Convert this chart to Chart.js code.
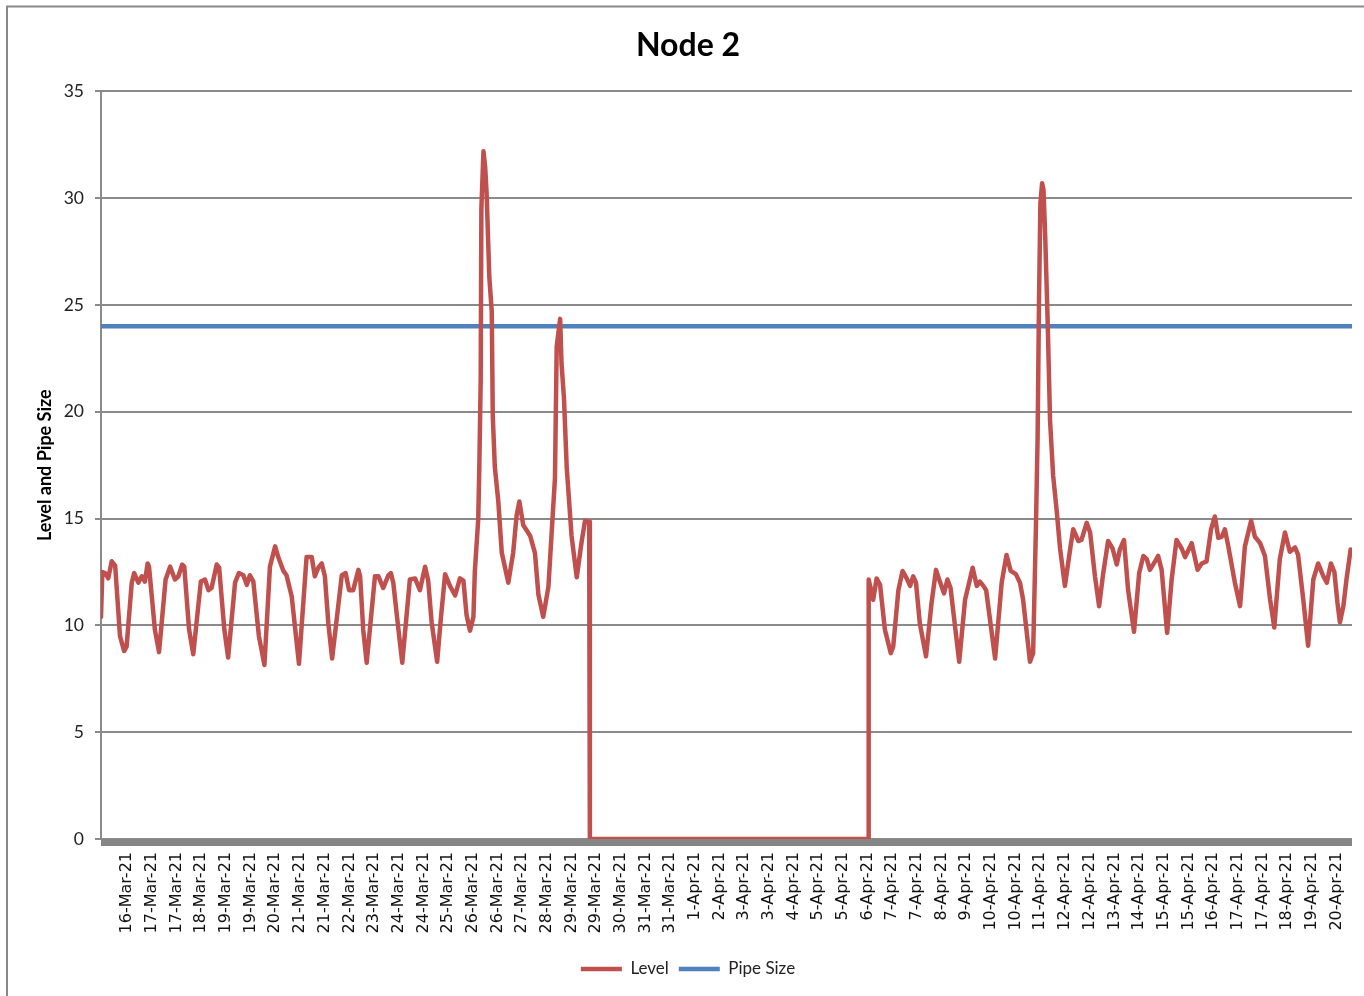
<!DOCTYPE html>
<html>
<head>
<meta charset="utf-8">
<title>Node 2</title>
<script src="https://cdn.jsdelivr.net/npm/chart.js@4"></script>
<style>
  html, body { margin: 0; padding: 0; background: #fff; }
  #wrap { position: relative; width: 1364px; height: 996px; }
</style>
</head>
<body>
<div id="wrap"><canvas id="chart" width="1364" height="996"></canvas></div>
<script>
// category labels shown along the bottom (one every 5/7 of a day)
var tickLabels = [
    "16-Mar-21", "17-Mar-21", "17-Mar-21", "18-Mar-21", "19-Mar-21", "19-Mar-21", "20-Mar-21",
    "21-Mar-21", "21-Mar-21", "22-Mar-21", "23-Mar-21", "24-Mar-21", "24-Mar-21", "25-Mar-21",
    "26-Mar-21", "26-Mar-21", "27-Mar-21", "28-Mar-21", "29-Mar-21", "29-Mar-21", "30-Mar-21",
    "31-Mar-21", "31-Mar-21", "1-Apr-21", "2-Apr-21", "3-Apr-21", "3-Apr-21", "4-Apr-21",
    "5-Apr-21", "5-Apr-21", "6-Apr-21", "7-Apr-21", "7-Apr-21", "8-Apr-21", "9-Apr-21",
    "10-Apr-21", "10-Apr-21", "11-Apr-21", "12-Apr-21", "12-Apr-21", "13-Apr-21", "14-Apr-21",
    "15-Apr-21", "15-Apr-21", "16-Apr-21", "17-Apr-21", "17-Apr-21", "18-Apr-21", "19-Apr-21",
    "20-Apr-21"
];

// elapsed days since the start of the record
var levelDays = [
    0.00, 0.04, 0.12, 0.21, 0.31, 0.41, 0.55, 0.67, 0.74, 0.89,
    0.96, 1.08, 1.18, 1.27, 1.35, 1.39, 1.56, 1.68, 1.87, 2.00,
    2.14, 2.24, 2.35, 2.41, 2.55, 2.67, 2.89, 3.01, 3.11, 3.20,
    3.35, 3.42, 3.57, 3.68, 3.88, 3.99, 4.12, 4.22, 4.31, 4.41,
    4.57, 4.73, 4.89, 5.04, 5.13, 5.28, 5.37, 5.52, 5.73, 5.95,
    6.10, 6.19, 6.29, 6.39, 6.48, 6.58, 6.69, 6.97, 7.08, 7.18,
    7.30, 7.45, 7.50, 7.59, 7.69, 7.93, 8.03, 8.17, 8.32, 8.39,
    8.46, 8.61, 8.72, 8.94, 9.09, 9.23, 9.38, 9.47, 9.57, 9.73,
    9.83, 9.96, 10.10, 10.25, 10.39, 10.49, 10.58, 10.68, 10.78, 10.82,
    10.92, 10.95, 10.99, 11.01, 11.07, 11.12, 11.16, 11.24, 11.31, 11.34,
    11.40, 11.50, 11.60, 11.79, 11.93, 12.03, 12.11, 12.22, 12.42, 12.56,
    12.66, 12.80, 12.95, 13.05, 13.14, 13.19, 13.29, 13.33, 13.40, 13.48,
    13.62, 13.77, 13.91, 14.01, 14.13, 14.15, 22.22, 22.22, 22.35, 22.45,
    22.55, 22.69, 22.86, 22.93, 23.08, 23.20, 23.32, 23.42, 23.51, 23.59,
    23.70, 23.88, 24.04, 24.17, 24.28, 24.40, 24.50, 24.59, 24.84, 25.01,
    25.23, 25.35, 25.44, 25.54, 25.62, 25.88, 26.07, 26.21, 26.33, 26.48,
    26.60, 26.69, 26.89, 26.98, 27.06, 27.11, 27.15, 27.19, 27.24, 27.28,
    27.33, 27.40, 27.47, 27.56, 27.66, 27.76, 27.90, 28.05, 28.14, 28.29,
    28.38, 28.53, 28.63, 28.77, 28.89, 29.01, 29.15, 29.28, 29.40, 29.49,
    29.61, 29.73, 29.90, 30.05, 30.17, 30.27, 30.36, 30.51, 30.60, 30.70,
    30.86, 30.99, 31.13, 31.28, 31.38, 31.57, 31.74, 31.86, 32.00, 32.13,
    32.24, 32.34, 32.44, 32.53, 32.63, 32.82, 32.97, 33.11, 33.29, 33.40,
    33.55, 33.69, 33.84, 33.96, 34.12, 34.27, 34.41, 34.56, 34.65, 34.80,
    34.94, 35.09, 35.23, 35.38, 35.48, 35.60, 35.70, 35.79, 35.86, 35.96,
    36.05, 36.17
];
var levelValues = [
    10.4, 12.5, 12.45, 12.2, 13.0, 12.8, 9.5, 8.8, 9.0, 12.0,
    12.45, 12.0, 12.3, 12.05, 12.9, 12.75, 9.8, 8.75, 12.15, 12.75,
    12.15, 12.3, 12.85, 12.75, 9.8, 8.65, 12.05, 12.15, 11.65, 11.75,
    12.85, 12.7, 9.8, 8.5, 12.0, 12.45, 12.35, 11.9, 12.35, 12.05,
    9.5, 8.15, 12.75, 13.7, 13.2, 12.55, 12.35, 11.35, 8.2, 13.2,
    13.2, 12.3, 12.7, 12.9, 12.3, 10.1, 8.45, 12.35, 12.45, 11.65,
    11.65, 12.6, 12.3, 9.8, 8.25, 12.3, 12.3, 11.75, 12.35, 12.45,
    12.0, 9.8, 8.25, 12.15, 12.2, 11.65, 12.75, 12.1, 10.15, 8.3,
    10.2, 12.4, 11.85, 11.4, 12.2, 12.1, 10.5, 9.75, 10.4, 12.5,
    15.0, 17.4, 21.45, 29.5, 32.2, 31.45, 30.3, 26.3, 24.7, 19.8,
    17.4, 15.8, 13.4, 12.0, 13.4, 15.15, 15.8, 14.7, 14.2, 13.4,
    11.45, 10.4, 11.8, 14.5, 16.9, 23.05, 24.35, 22.25, 20.65, 17.4,
    14.2, 12.25, 13.9, 14.9, 14.85, 0, 0, 12.15, 11.2, 12.2,
    11.9, 9.8, 8.7, 9.0, 11.65, 12.55, 12.2, 11.85, 12.3, 12.0,
    10.1, 8.55, 11.05, 12.6, 12.05, 11.5, 12.15, 11.75, 8.3, 11.2,
    12.7, 11.85, 12.05, 11.85, 11.65, 8.45, 12.0, 13.3, 12.55, 12.4,
    12.0, 11.2, 8.3, 8.7, 14.5, 18.8, 25.1, 29.75, 30.7, 30.4,
    28.2, 24.3, 19.6, 17.0, 15.4, 13.6, 11.85, 13.55, 14.5, 13.95,
    14.0, 14.8, 14.35, 12.3, 10.9, 12.45, 13.95, 13.6, 12.85, 13.55,
    14.0, 11.65, 9.7, 12.45, 13.25, 13.1, 12.6, 13.0, 13.25, 12.6,
    9.65, 12.15, 14.0, 13.6, 13.2, 13.85, 12.6, 12.9, 13.0, 14.5,
    15.1, 14.1, 14.15, 14.5, 13.7, 12.0, 10.9, 13.7, 14.9, 14.15,
    13.85, 13.25, 11.2, 9.9, 13.1, 14.35, 13.45, 13.65, 13.3, 11.2,
    9.05, 12.15, 12.9, 12.3, 12.0, 12.9, 12.5, 11.05, 10.15, 10.9,
    12.15, 13.55
];

var pipeDays = [0, 36.21];
var pipeValues = [24, 24];

var firstTickDay = 0.76;
var tickEveryDays = 5 / 7;
var lastDay = 36.21;

function toPoints(days, values) {
    return days.map(function(d, i) { return { x: d, y: values[i] }; });
}

// white page, the thin frame and the heavy grey category axis
var framePlugin = {
    id: 'frame',
    beforeDraw: function(chart) {
        var ctx = chart.ctx;
        ctx.save();
        ctx.fillStyle = '#ffffff';
        ctx.fillRect(0, 0, chart.width, chart.height);
        ctx.strokeStyle = '#898989';
        ctx.lineWidth = 2;
        ctx.beginPath();
        ctx.moveTo(7, chart.height);
        ctx.lineTo(7, 6.5);
        ctx.lineTo(chart.width, 6.5);
        ctx.stroke();
        ctx.restore();
    },
    beforeDatasetsDraw: function(chart) {
        var a = chart.chartArea;
        var ctx = chart.ctx;
        ctx.save();
        ctx.fillStyle = '#868686';
        ctx.fillRect(a.left, a.bottom, a.right - a.left, 7);
        ctx.restore();
    }
};

new Chart(document.getElementById('chart'), {
    type: 'line',
    data: {
        datasets: [{
            label: 'Level',
            data: toPoints(levelDays, levelValues),
            borderColor: '#C0504D',
            backgroundColor: '#C0504D',
            borderWidth: 4.5,
            pointRadius: 0,
            tension: 0,
            borderCapStyle: 'round',
            borderJoinStyle: 'round'
        }, {
            label: 'Pipe Size',
            data: toPoints(pipeDays, pipeValues),
            borderColor: '#4F81BD',
            backgroundColor: '#4F81BD',
            borderWidth: 4.5,
            pointRadius: 0,
            borderCapStyle: 'round'
        }]
    },
    options: {
        responsive: false,
        animation: false,
        layout: {
            padding: { top: 8, left: 24, right: 12, bottom: 8.5 }
        },
        scales: {
            x: {
                type: 'linear',
                min: 0,
                max: lastDay,
                afterBuildTicks: function(scale) {
                    scale.ticks = tickLabels.map(function(l, i) {
                        return { value: firstTickDay + i * tickEveryDays };
                    });
                },
                afterFit: function(scale) { scale.height = 111.5; },
                grid: { display: false },
                border: { display: false },
                ticks: {
                    autoSkip: false,
                    minRotation: 90,
                    maxRotation: 90,
                    padding: 5,
                    color: '#111',
                    font: { family: 'DejaVu Sans', size: 16 },
                    callback: function(value, index) { return tickLabels[index]; }
                }
            },
            y: {
                min: 0,
                max: 35,
                afterFit: function(scale) { scale.width = 77; },
                ticks: {
                    stepSize: 5,
                    padding: 11,
                    color: '#222',
                    font: { family: 'Lato', size: 17.5 }
                },
                grid: { color: '#8a8a8a', lineWidth: 2, tickLength: 6 },
                border: { color: '#8a8a8a', width: 2 },
                title: {
                    display: true,
                    text: 'Level and Pipe Size',
                    color: '#000',
                    padding: { top: 10, bottom: 4 },
                    font: { family: 'Lato', size: 18, weight: 'bold' }
                }
            }
        },
        plugins: {
            title: {
                display: true,
                text: 'Node 2',
                color: '#000',
                font: { family: 'Lato', size: 32, weight: 'bold' },
                padding: { top: 18, bottom: 27 }
            },
            legend: {
                position: 'bottom',
                labels: {
                    usePointStyle: true,
                    pointStyle: 'line',
                    pointStyleWidth: 41,
                    padding: 10,
                    color: '#222',
                    font: { family: 'Lato', size: 17 }
                }
            },
            tooltip: { enabled: false }
        }
    },
    plugins: [framePlugin]
});
</script>
</body>
</html>
